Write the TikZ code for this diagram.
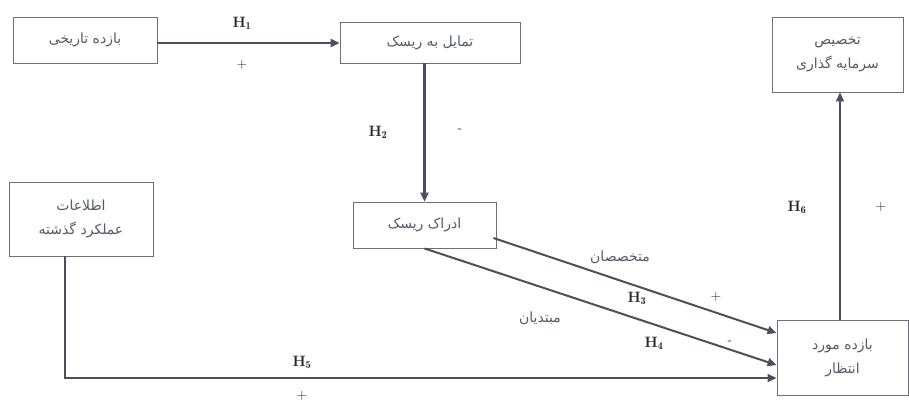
\documentclass[tikz,border=0pt]{standalone}
\usepackage{fontspec}
\TeXXeTstate=1
\newfontfamily\arabicfont[Script=Arabic]{DejaVu Sans}
\usetikzlibrary{arrows.meta}
\definecolor{linec}{HTML}{4B5060}
\definecolor{boxc}{HTML}{6E7078}
\definecolor{txtc}{HTML}{555A6A}
\begin{document}
\begin{tikzpicture}[x=1pt,y=-1pt,
  box/.style={draw=boxc,line width=0.9pt,fill=white,align=center,inner sep=2pt,
    text=txtc,font=\arabicfont\fontsize{14}{24}\selectfont},
  arr/.style={draw=linec,line width=2pt,-{Triangle[length=9pt,width=8pt]}},
  hl/.style={font=\fontsize{15}{17}\selectfont\bfseries,text=black!85},
  sg/.style={font=\fontsize{14}{15}\selectfont,text=black!85},
  pl/.style={font=\arabicfont\fontsize{14}{16}\selectfont,text=txtc}]
\useasboundingbox (0,0) rectangle (909,405);
\node[box,minimum width=144pt,minimum height=46pt] (A) at (85,40) {\beginR بازده تاریخی\endR};
\node[box,minimum width=180pt,minimum height=41pt] (B) at (430,42.5) {\beginR تمایل به ریسک\endR};
\node[box,minimum width=143pt,minimum height=46pt] (C) at (424.5,225) {\beginR ادراک ریسک\endR};
\node[box,minimum width=131pt,minimum height=75pt] (D) at (837.5,54.5) {\beginR تخصیص\endR\\\beginR سرمایه گذاری\endR};
\node[box,minimum width=144pt,minimum height=74pt] (F) at (81,219) {\beginR اطلاعات\endR\\\beginR عملکرد گذشته\endR};
\node[box,minimum width=131pt,minimum height=75pt] (E) at (842.5,357.5) {\beginR بازده مورد\endR\\\beginR انتظار\endR};
% connectors
\draw[arr,line width=2.3pt] ([yshift=-3pt]A.east) -- ([yshift=-3pt]A.east -| B.west);
\draw[arr,line width=2.3pt] (C.north |- B.south) -- (C.north);
\draw[arr] ([shift={(-3pt,-13pt)}]C.east) -- ([yshift=24.5pt]E.west);
\draw[arr] (C.south) -- ([yshift=-7.5pt]E.west);
\draw[arr,line width=1.6pt] ([xshift=-16pt]F.south) |- ([yshift=-20.5pt]E.west);
\draw[arr,line width=1.6pt] ([xshift=-2.5pt]E.north) -- ([xshift=2.5pt]D.south);
% labels
\node[hl] (h1) at (242,23) {H$_{\mathbf 1}$};
\node[sg] (p1) at (242,65) {+};
\node[hl] (h2) at (378,132) {H$_{\mathbf 2}$};
\node[sg] (m2) at (460,131) {-};
\node[pl] (exp) at (620,257) {\beginR متخصصان\endR};
\node[hl] (h3) at (637,298) {H$_{\mathbf 3}$};
\node[sg] (p3) at (716,297) {+};
\node[pl] (nov) at (540,318) {\beginR مبتدیان\endR};
\node[hl] (h4) at (654,343) {H$_{\mathbf 4}$};
\node[sg] (m4) at (730,343) {-};
\node[hl] (h5) at (302,362) {H$_{\mathbf 5}$};
\node[sg] (p5) at (302,396) {+};
\node[hl] (h6) at (797,207) {H$_{\mathbf 6}$};
\node[sg] (p6) at (881,207) {+};
\end{tikzpicture}
\end{document}
